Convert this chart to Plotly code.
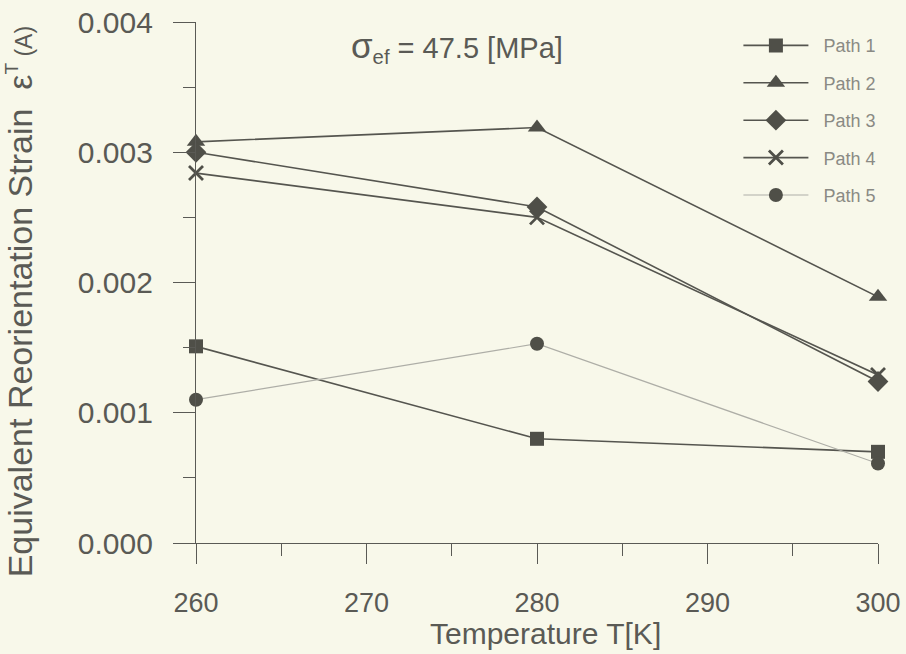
import plotly.graph_objects as go

temps = [260, 280, 300]
path1 = [0.00151, 0.00080, 0.00070]
path2 = [0.00308, 0.00319, 0.00189]
path3 = [0.00300, 0.00258, 0.00124]
path4 = [0.00284, 0.00250, 0.00129]
path5 = [0.00110, 0.00153, 0.00061]

names = ["Path 1", "Path 2", "Path 3", "Path 4", "Path 5"]
series = [path1, path2, path3, path4, path5]
symbols = ["square", "triangle-up", "diamond", "x-thin", "circle"]
sizes = [14, 16, 16, 14, 14]
line_colors = ["#55554f", "#55554f", "#55554f", "#55554f", "#aeaea7"]
line_widths = [1.6, 1.6, 1.6, 1.6, 1.2]

BG = "#f8f8ea"
INK = "#5a5a55"
FONT = "Liberation Sans, Arial, sans-serif"

fig = go.Figure()
for i, (nm, ys, sym, sz, lc, lw) in enumerate(zip(names, series, symbols, sizes, line_colors, line_widths)):
    marker = dict(symbol=sym, size=sz, color="#4f4f48")
    if sym == "x-thin":
        marker["line"] = dict(width=2.8, color="#4f4f48")
    fig.add_trace(go.Scatter(
        x=temps, y=ys, name="\u00a0\u00a0" + nm, mode="lines+markers",
        line=dict(color=lc, width=lw), marker=marker,
        legendgroup=nm, cliponaxis=False,
    ))

# sigma annotation
fig.add_annotation(
    x=0.225, y=0.952, xref="paper", yref="paper",
    text="<span style='font-size:35px'>σ</span><sub>ef</sub> = 47.5 [MPa]",
    showarrow=False, font=dict(family=FONT, size=29, color=INK),
    xanchor="left", yanchor="middle",
)

# y title
fig.add_annotation(
    x=-0.258, y=0.462, xref="paper", yref="paper",
    text="Equivalent Reorientation Strain  ε<sup><span style='font-size:19px'>T</span></sup><span style='font-size:23px'> (A)</span>",
    textangle=-90, showarrow=False, font=dict(family=FONT, size=34, color=INK),
    xanchor="center", yanchor="middle",
)

# x title
fig.add_annotation(
    x=0.513, y=-0.173, xref="paper", yref="paper",
    text="Temperature T[K]",
    showarrow=False, font=dict(family=FONT, size=30, color=INK),
    xanchor="center", yanchor="middle",
)

fig.update_layout(
    width=906, height=654,
    paper_bgcolor=BG, plot_bgcolor=BG,
    margin=dict(l=196, r=28, t=22, b=111, autoexpand=False),
    font=dict(family=FONT, color=INK),
    showlegend=True,
    legend=dict(
        x=1.005, y=0.99, xanchor="right", yanchor="top",
        bgcolor="rgba(0,0,0,0)", font=dict(size=18, color="#8a8a84", family=FONT),
        itemwidth=65, traceorder="grouped", tracegroupgap=11,
    ),
    xaxis=dict(
        range=[260, 300], showgrid=False, zeroline=False, automargin=False,
        showline=True, linecolor=INK, linewidth=1.2,
        tickmode="array", tickvals=[260, 270, 280, 290, 300],
        ticks="outside", ticklen=20, tickcolor=INK, tickwidth=1.2,
        minor=dict(ticks="outside", ticklen=12, tickcolor=INK, tickwidth=1.2, dtick=5, showgrid=False),
        tickfont=dict(size=27, color=INK), ticklabelstandoff=15,
    ),
    yaxis=dict(
        range=[0, 0.004], showgrid=False, zeroline=False, automargin=False,
        showline=True, linecolor=INK, linewidth=1.2,
        tickmode="array", tickvals=[0, 0.001, 0.002, 0.003, 0.004],
        ticktext=["0.000", "0.001", "0.002", "0.003", "0.004"],
        ticks="outside", ticklen=22, tickcolor=INK, tickwidth=1.2,
        minor=dict(ticks="outside", ticklen=12, tickcolor=INK, tickwidth=1.2, dtick=0.0005, showgrid=False),
        tickfont=dict(size=30, color=INK), ticklabelstandoff=14,
    ),
)

fig.write_html("out.html")
